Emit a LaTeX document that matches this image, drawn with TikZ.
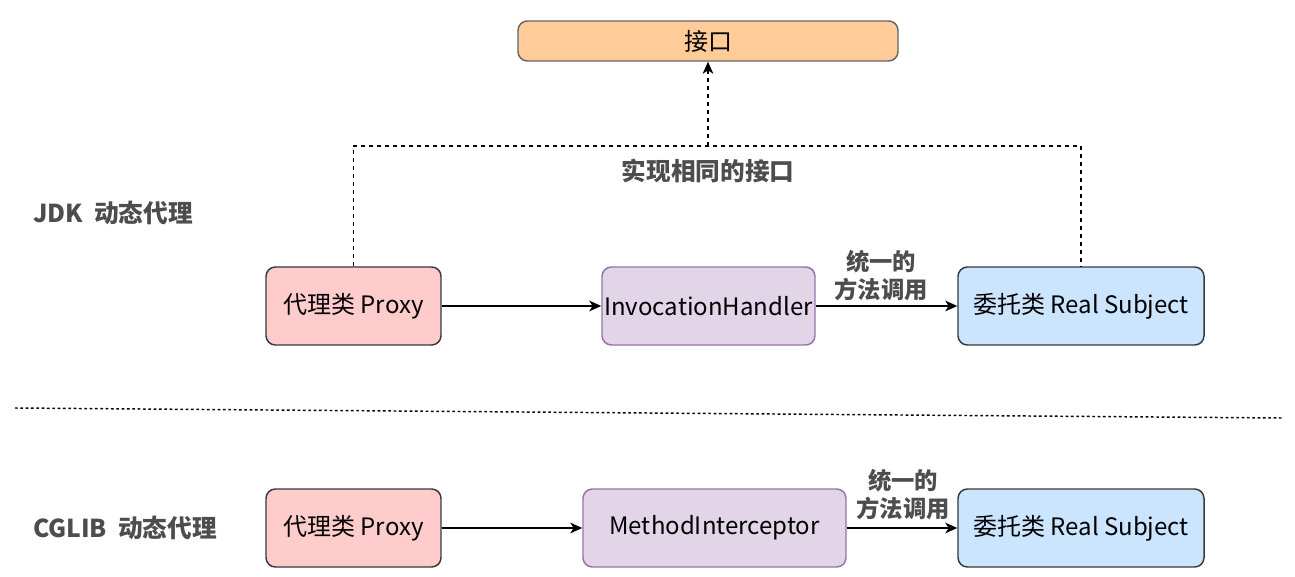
\documentclass[tikz,border=0pt]{standalone}
\usepackage{fontspec}
\setmainfont{Noto Sans CJK SC}
\usetikzlibrary{arrows.meta}
\definecolor{ifill}{HTML}{FFCC99}
\definecolor{pfill}{HTML}{FFCCCC}
\definecolor{hfill}{HTML}{E1D5E7}
\definecolor{hline}{HTML}{9673A6}
\definecolor{rfill}{HTML}{CCE5FF}
\definecolor{bline}{HTML}{36393D}
\definecolor{lbl}{HTML}{4D4D4D}
\tikzset{
  box/.style={draw=bline, line width=1.1pt, rounded corners=7pt, inner sep=0pt, font=\fontsize{18}{21}\selectfont, text=black},
  arr/.style={line width=1.1pt, -{Stealth[length=9pt,width=8pt,inset=2.5pt]}},
  dsh/.style={line width=1.1pt, dash pattern=on 3pt off 3pt},
  blabel/.style={font=\bfseries\fontsize{18.5}{21}\selectfont, text=lbl, align=center},
  elabel/.style={blabel, font=\bfseries\fontsize{17.5}{21}\selectfont},
}
\begin{document}
\begin{tikzpicture}[x=0.75pt,y=-0.75pt]
\useasboundingbox (0,0) rectangle (1295,577);
% top interface
\node[box, fill=ifill, draw=black!60, minimum width=380*0.75pt, minimum height=40*0.75pt] (iface) at (708,41) {接口};
% JDK row
\node[box, fill=pfill, minimum width=175*0.75pt, minimum height=78*0.75pt] (p1) at (353.5,306) {代理类 Proxy};
\node[box, fill=hfill, draw=hline, minimum width=213*0.75pt, minimum height=78*0.75pt] (h1) at (708.5,306) {InvocationHandler};
\node[box, fill=rfill, minimum width=246*0.75pt, minimum height=78*0.75pt] (r1) at (1081,306) {委托类 Real Subject};
% CGLIB row
\node[box, fill=pfill, minimum width=175*0.75pt, minimum height=78*0.75pt] (p2) at (353.5,528) {代理类 Proxy};
\node[box, fill=hfill, draw=hline, minimum width=263*0.75pt, minimum height=78*0.75pt] (h2) at (714.5,528) {MethodInterceptor};
\node[box, fill=rfill, minimum width=246*0.75pt, minimum height=78*0.75pt] (r2) at (1081,528) {委托类 Real Subject};
% labels
\node[blabel] (jdk) at (113,213) {JDK\ \ 动态代理};
\node[blabel] (cglib) at (125,528) {CGLIB\ \ 动态代理};
\node[blabel] (same) at (708,171) {实现相同的接口};
% dashed interface lines
\coordinate (mid) at (708,146);
\draw[dsh] (p1.north) |- (mid) -| (r1.north);
\draw[dsh, arr] (mid) -- (iface.south);
% arrows
\draw[arr] (p1) -- (h1);
\draw[arr] (h1) -- (r1);
\node[elabel] (l1) at (881,276) {统一的\\方法调用};
\draw[arr] (p2) -- (h2);
\draw[arr] (h2) -- (r2);
\node[elabel] (l2) at (903,495) {统一的\\方法调用};
% separator
\coordinate (s1) at (15,408);
\coordinate (s2) at (1282,418);
\draw[line width=1.1pt, dash pattern=on 2pt off 2pt] (s1) -- (s2);
\end{tikzpicture}
\end{document}
